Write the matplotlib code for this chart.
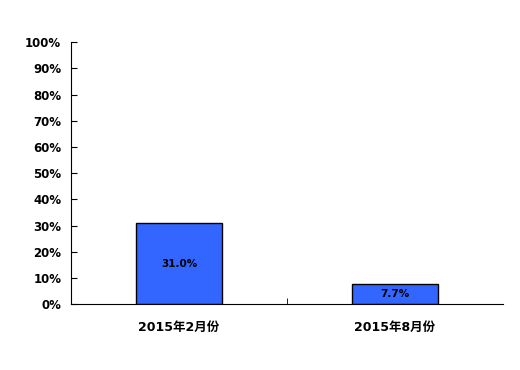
import matplotlib.pyplot as plt
import numpy as np

plt.rcParams['font.family'] = ['DejaVu Sans', 'Noto Sans CJK SC']

categories = ["2015年2月份", "2015年8月份"]
values = [31.0, 7.7]
labels = ["31.0%", "7.7%"]
yticks = [0, 10, 20, 30, 40, 50, 60, 70, 80, 90, 100]

fig = plt.figure(figsize=(5.2, 3.7), dpi=100)
ax = fig.add_axes([0.1365, 0.178, 0.8305, 0.708])

x = np.arange(len(categories))
bars = ax.bar(x, values, width=0.40, color="#3366FF", edgecolor="black", linewidth=1)

for b, lab in zip(bars, labels):
    ax.text(b.get_x() + b.get_width() / 2, b.get_height() / 2, lab,
            ha="center", va="center", fontsize=7.5, fontweight="bold")

ax.set_xlim(-0.5, 1.5)
ax.set_ylim(0, 100)
ax.set_yticks(yticks)
ax.set_yticklabels([f"{t}%" for t in yticks], fontsize=8.5, fontweight="bold")
ax.set_xticks(x)
ax.set_xticklabels(categories, fontsize=9, fontweight="bold")
ax.tick_params(axis="x", length=0, pad=12)
ax.set_xticks([0.5], minor=True)
ax.tick_params(axis="x", which="minor", direction="in", length=4)
ax.tick_params(axis="y", direction="in", length=4, pad=7)

ax.spines["top"].set_visible(False)
ax.spines["right"].set_visible(False)

fig.savefig("out.png", dpi=100)
